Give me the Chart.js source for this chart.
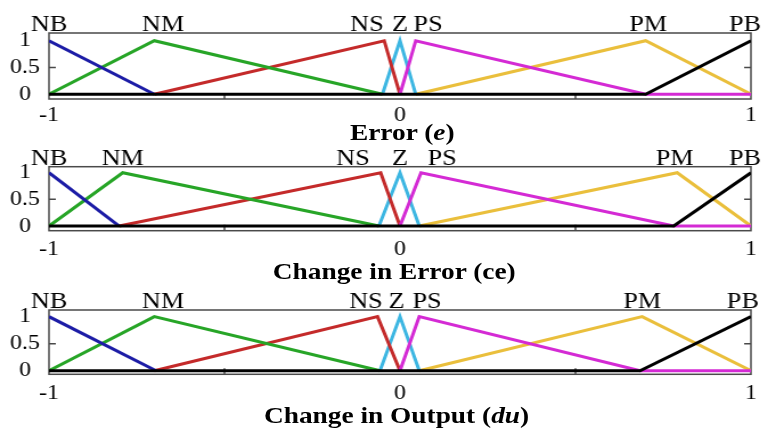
<!doctype html>
<html lang="en">
  <head>
    <meta charset="utf-8">
    <title>Membership functions</title>
    <style>
      * {
        margin: 0;
        padding: 0;
      }
      body {
        background: #fff;
        width: 768px;
        height: 430px;
        overflow: hidden;
      }
      /* the source figure is a bit wider than tall, so draw narrow and stretch */
      .sheet {
        position: absolute;
        left: 0;
        top: 0;
        width: 674px;
        height: 430px;
        transform: scaleX(1.1395);
        transform-origin: 0 0;
      }
      .sheet canvas {
        position: absolute;
        left: 0;
      }
      .ttl {
        position: absolute;
        width: 400px;
        text-align: center;
        font: bold 24px 'Liberation Serif', 'Times New Roman', serif;
        line-height: 24px;
        color: #000;
        white-space: nowrap;
      }
    </style>
  </head>
  <body>
    <div class="sheet">
      <canvas id="cE" width="674" height="142" style="top:0px"></canvas>
      <canvas id="cCE" width="674" height="142" style="top:142px"></canvas>
      <canvas id="cDU" width="674" height="146" style="top:284px"></canvas>
      <div class="ttl" style="left:153px; top:120px">Error (<i>e</i>)</div>
      <div class="ttl" style="left:146px; top:259px">Change in Error (ce)</div>
      <div class="ttl" style="left:148px; top:403px">Change in Output (<i>du</i>)</div>
    </div>
    <script src="https://cdn.jsdelivr.net/npm/chart.js/dist/chart.umd.min.js"></script>
    <script>
    // setup
    const terms = ['NB', 'NM', 'NS', 'Z', 'PS', 'PM', 'PB'];
    const colors = ['#1c1ca6', '#27a527', '#c42a2a', '#3cb6e2', '#d42ad4', '#eabf3c', '#000000'];

    // membership grade at each corner of a term (same shapes in all 3 plots)
    const grades = [
      [1, 0],        // NB
      [0, 1, 0],     // NM
      [0, 1, 0],     // NS
      [0, 1, 0],     // Z
      [0, 1, 0, 0],  // PS
      [0, 1, 0],     // PM
      [0, 0, 1]      // PB
    ];

    // corner positions on [-1, 1]
    const errCorners = [
      [-1, -0.70],
      [-1, -0.70, -0.05],
      [-0.70, -0.045, 0],
      [-0.05, 0, 0.045],
      [0, 0.045, 0.70, 1],
      [0.045, 0.70, 1],
      [-1, 0.70, 1]
    ];
    const ceCorners = [
      [-1, -0.80],
      [-1, -0.79, -0.06],
      [-0.80, -0.055, 0],
      [-0.06, 0, 0.055],
      [0, 0.06, 0.78, 1],
      [0.055, 0.79, 1],
      [-1, 0.78, 1]
    ];
    const duCorners = [
      [-1, -0.695],
      [-1, -0.70, -0.057],
      [-0.70, -0.064, 0],
      [-0.057, 0, 0.055],
      [0, 0.055, 0.684, 1],
      [0.055, 0.69, 1],
      [-1, 0.684, 1]
    ];

    // where the term names sit along the top
    const errTermAt = [-1.0, -0.675, -0.094, 0, 0.08, 0.707, 0.983];
    const ceTermAt = [-1.0, -0.79, -0.134, 0, 0.12, 0.783, 0.983];
    const duTermAt = [-1.0, -0.675, -0.097, -0.01, 0.077, 0.69, 0.977];

    const xTicks = [-1, -0.5, 0, 0.5, 1];
    const xLabelled = [-1, 0, 1];
    const yTicks = [0, 0.5, 1];

    const serif = "'Liberation Serif', 'Times New Roman', serif";

    // box, inward tick marks and the term names
    const frame = {
      id: 'frame',
      beforeDatasetsDraw(chart) {
        const {ctx, chartArea: a, scales: {x, y}} = chart;
        ctx.save();
        ctx.strokeStyle = '#4a4a4a';
        ctx.lineWidth = 1.5;
        ctx.strokeRect(a.left, a.top, a.right - a.left, a.bottom - a.top);
        ctx.beginPath();
        [-0.5, 0.5].forEach(v => {
          const px = x.getPixelForValue(v);
          ctx.moveTo(px, a.bottom);
          ctx.lineTo(px, a.bottom - 6);
        });
        const py = y.getPixelForValue(0.5);
        ctx.moveTo(a.left, py);
        ctx.lineTo(a.left + 6, py);
        ctx.moveTo(a.right, py);
        ctx.lineTo(a.right - 6, py);
        ctx.stroke();
        ctx.restore();
      },
      afterDraw(chart, args, opts) {
        const {ctx, chartArea: a, scales: {x}} = chart;
        ctx.save();
        ctx.font = '23px ' + serif;
        ctx.fillStyle = '#000';
        ctx.textAlign = 'center';
        ctx.textBaseline = 'alphabetic';
        opts.at.forEach((v, i) => ctx.fillText(terms[i], x.getPixelForValue(v), a.top - 2));
        ctx.restore();
      }
    };

    function build(id, corners, termAt, ySpan, box) {
      const datasets = corners.map((xs, i) => ({
        label: terms[i],
        data: xs.map((x, k) => ({x: x, y: grades[i][k]})),
        borderColor: colors[i],
        borderWidth: 3,
        pointRadius: 0,
        fill: false,
        tension: 0,
        // PB on top, then PS, then the rest
        order: i === 6 ? 0 : (i === 4 ? 1 : 2)
      }));
      return new Chart(document.getElementById(id), {
        type: 'line',
        data: {datasets},
        options: {
          responsive: false,
          animation: false,
          events: [],
          layout: {padding: {top: box.top, right: 15, left: 0, bottom: 0}},
          plugins: {
            legend: {display: false},
            tooltip: {enabled: false},
            frame: {at: termAt}
          },
          scales: {
            x: {
              type: 'linear',
              min: -1,
              max: 1,
              grid: {display: false, drawTicks: false},
              border: {display: false},
              afterBuildTicks: s => { s.ticks = xTicks.map(v => ({value: v})); },
              afterFit: s => { s.height = box.axis; },
              ticks: {
                padding: box.pad,
                autoSkip: false,
                maxRotation: 0,
                color: '#000',
                font: {family: serif, size: 21},
                callback: v => xLabelled.includes(v) ? String(v) : ''
              }
            },
            y: {
              min: ySpan[0],
              max: ySpan[1],
              grid: {display: false, drawTicks: false},
              border: {display: false},
              afterBuildTicks: s => { s.ticks = yTicks.map(v => ({value: v})); },
              afterFit: s => { s.width = 43; },
              ticks: {
                padding: 8,
                crossAlign: 'center',
                color: '#000',
                font: {family: serif, size: 21},
                callback: v => String(v)
              }
            }
          }
        },
        plugins: [frame]
      });
    }

    build('cE', errCorners, errTermAt, [-0.088, 1.144], {top: 33, axis: 43, pad: 3.4});
    build('cCE', ceCorners, ceTermAt, [-0.088, 1.113], {top: 24.7, axis: 53.3, pad: 6.4});
    build('cDU', duCorners, duTermAt, [-0.065, 1.123], {top: 26, axis: 55.7, pad: 6.6});
    </script>
  </body>
</html>
